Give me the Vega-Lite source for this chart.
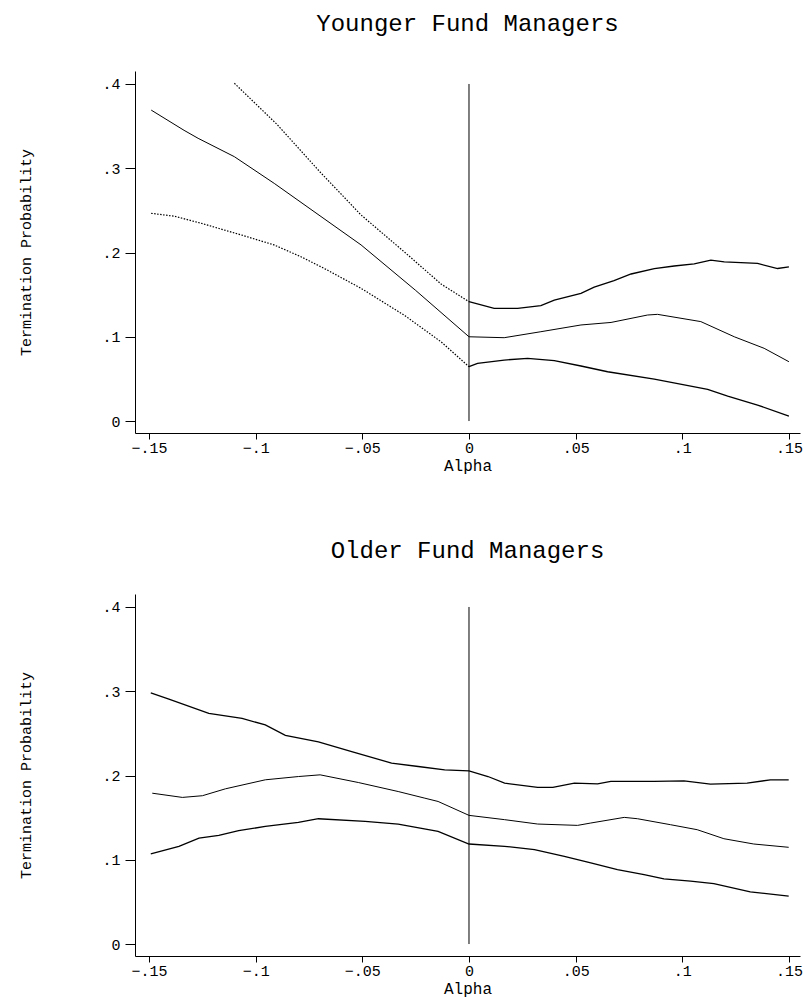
{
  "$schema": "https://vega.github.io/schema/vega-lite/v6.json",
  "background": "white",
  "padding": {"left": 18, "top": 12, "right": 0, "bottom": 3},
  "spacing": 66,
  "config": {
    "view": {"stroke": null},
    "axis": {
      "grid": false,
      "domainColor": "black",
      "tickColor": "black",
      "labelColor": "black",
      "titleColor": "black",
      "labelFont": "Liberation Mono",
      "titleFont": "Liberation Mono",
      "labelFontSize": 15,
      "titleFontSize": 15,
      "titleFontWeight": "normal",
      "domainWidth": 1,
      "tickWidth": 1
    },
    "axisX": {"tickSize": 6, "labelPadding": 1, "titlePadding": 2, "titleFontSize": 16},
    "axisY": {"tickSize": 10, "labelPadding": 5},
    "title": {"font": "Liberation Mono", "fontSize": 24, "fontWeight": "normal", "color": "black", "anchor": "middle", "baseline": "alphabetic"}
  },
  "datasets": {
    "young": [
      {"series": "est", "alpha": -0.149, "p": 0.369},
      {"series": "est", "alpha": -0.1336, "p": 0.345},
      {"series": "est", "alpha": -0.127, "p": 0.3355},
      {"series": "est", "alpha": -0.11, "p": 0.3137},
      {"series": "est", "alpha": -0.0913, "p": 0.282},
      {"series": "est", "alpha": -0.0506, "p": 0.209},
      {"series": "est", "alpha": -0.025, "p": 0.155},
      {"series": "est", "alpha": 0, "p": 0.1},
      {"series": "est", "alpha": 0.0165, "p": 0.0989},
      {"series": "est", "alpha": 0.0337, "p": 0.106},
      {"series": "est", "alpha": 0.0525, "p": 0.114},
      {"series": "est", "alpha": 0.0666, "p": 0.117},
      {"series": "est", "alpha": 0.0837, "p": 0.1258},
      {"series": "est", "alpha": 0.0884, "p": 0.1266},
      {"series": "est", "alpha": 0.1087, "p": 0.118},
      {"series": "est", "alpha": 0.1244, "p": 0.1},
      {"series": "est", "alpha": 0.1384, "p": 0.0863},
      {"series": "est", "alpha": 0.15, "p": 0.0704},
      {"series": "upper", "alpha": -0.11, "p": 0.4008},
      {"series": "upper", "alpha": -0.09, "p": 0.352},
      {"series": "upper", "alpha": -0.07, "p": 0.296},
      {"series": "upper", "alpha": -0.0506, "p": 0.2445},
      {"series": "upper", "alpha": -0.03, "p": 0.2},
      {"series": "upper", "alpha": -0.0131, "p": 0.1626},
      {"series": "upper", "alpha": 0, "p": 0.1416},
      {"series": "upper", "alpha": 0.0118, "p": 0.1337},
      {"series": "upper", "alpha": 0.0228, "p": 0.1337},
      {"series": "upper", "alpha": 0.0337, "p": 0.1369},
      {"series": "upper", "alpha": 0.04, "p": 0.1436},
      {"series": "upper", "alpha": 0.0525, "p": 0.1515},
      {"series": "upper", "alpha": 0.0587, "p": 0.159},
      {"series": "upper", "alpha": 0.068, "p": 0.1666},
      {"series": "upper", "alpha": 0.076, "p": 0.1745},
      {"series": "upper", "alpha": 0.0869, "p": 0.181},
      {"series": "upper", "alpha": 0.0962, "p": 0.184},
      {"series": "upper", "alpha": 0.1056, "p": 0.1864},
      {"series": "upper", "alpha": 0.1134, "p": 0.191},
      {"series": "upper", "alpha": 0.1197, "p": 0.189},
      {"series": "upper", "alpha": 0.1353, "p": 0.187},
      {"series": "upper", "alpha": 0.1447, "p": 0.181},
      {"series": "upper", "alpha": 0.15, "p": 0.183},
      {"series": "lower", "alpha": -0.149, "p": 0.2465},
      {"series": "lower", "alpha": -0.138, "p": 0.243},
      {"series": "lower", "alpha": -0.1256, "p": 0.2347},
      {"series": "lower", "alpha": -0.107, "p": 0.221},
      {"series": "lower", "alpha": -0.0914, "p": 0.209},
      {"series": "lower", "alpha": -0.0788, "p": 0.195},
      {"series": "lower", "alpha": -0.0678, "p": 0.181},
      {"series": "lower", "alpha": -0.0506, "p": 0.1575},
      {"series": "lower", "alpha": -0.03, "p": 0.125},
      {"series": "lower", "alpha": -0.0131, "p": 0.094},
      {"series": "lower", "alpha": 0, "p": 0.0645},
      {"series": "lower", "alpha": 0.004, "p": 0.0685},
      {"series": "lower", "alpha": 0.0165, "p": 0.0724},
      {"series": "lower", "alpha": 0.0275, "p": 0.0744},
      {"series": "lower", "alpha": 0.04, "p": 0.0716},
      {"series": "lower", "alpha": 0.0525, "p": 0.0653},
      {"series": "lower", "alpha": 0.065, "p": 0.0585},
      {"series": "lower", "alpha": 0.0869, "p": 0.0498},
      {"series": "lower", "alpha": 0.1119, "p": 0.0376},
      {"series": "lower", "alpha": 0.1213, "p": 0.0297},
      {"series": "lower", "alpha": 0.1353, "p": 0.019},
      {"series": "lower", "alpha": 0.15, "p": 0.0059}
    ],
    "old": [
      {"series": "upper", "alpha": -0.1492, "p": 0.298},
      {"series": "upper", "alpha": -0.1407, "p": 0.2907},
      {"series": "upper", "alpha": -0.122, "p": 0.2737},
      {"series": "upper", "alpha": -0.1064, "p": 0.2678},
      {"series": "upper", "alpha": -0.0955, "p": 0.26},
      {"series": "upper", "alpha": -0.0861, "p": 0.2477},
      {"series": "upper", "alpha": -0.0706, "p": 0.24},
      {"series": "upper", "alpha": -0.055, "p": 0.2284},
      {"series": "upper", "alpha": -0.0363, "p": 0.2146},
      {"series": "upper", "alpha": -0.0238, "p": 0.2107},
      {"series": "upper", "alpha": -0.0114, "p": 0.2067},
      {"series": "upper", "alpha": 0, "p": 0.2056},
      {"series": "upper", "alpha": 0.0089, "p": 0.1988},
      {"series": "upper", "alpha": 0.0167, "p": 0.1909},
      {"series": "upper", "alpha": 0.0322, "p": 0.1858},
      {"series": "upper", "alpha": 0.0393, "p": 0.1858},
      {"series": "upper", "alpha": 0.0494, "p": 0.1909},
      {"series": "upper", "alpha": 0.0603, "p": 0.19},
      {"series": "upper", "alpha": 0.0665, "p": 0.193},
      {"series": "upper", "alpha": 0.0868, "p": 0.193},
      {"series": "upper", "alpha": 0.1008, "p": 0.1937},
      {"series": "upper", "alpha": 0.1132, "p": 0.1897},
      {"series": "upper", "alpha": 0.1304, "p": 0.1909},
      {"series": "upper", "alpha": 0.1413, "p": 0.1949},
      {"series": "upper", "alpha": 0.1499, "p": 0.1949},
      {"series": "est", "alpha": -0.1485, "p": 0.179},
      {"series": "est", "alpha": -0.1344, "p": 0.174},
      {"series": "est", "alpha": -0.125, "p": 0.176},
      {"series": "est", "alpha": -0.1142, "p": 0.1842},
      {"series": "est", "alpha": -0.0955, "p": 0.1949},
      {"series": "est", "alpha": -0.0799, "p": 0.1988},
      {"series": "est", "alpha": -0.0698, "p": 0.2008},
      {"series": "est", "alpha": -0.0519, "p": 0.1917},
      {"series": "est", "alpha": -0.0332, "p": 0.181},
      {"series": "est", "alpha": -0.0207, "p": 0.1731},
      {"series": "est", "alpha": -0.0145, "p": 0.1692},
      {"series": "est", "alpha": 0, "p": 0.1527},
      {"series": "est", "alpha": 0.0167, "p": 0.1476},
      {"series": "est", "alpha": 0.0322, "p": 0.1424},
      {"series": "est", "alpha": 0.0509, "p": 0.1408},
      {"series": "est", "alpha": 0.0571, "p": 0.1436},
      {"series": "est", "alpha": 0.0728, "p": 0.1503},
      {"series": "est", "alpha": 0.079, "p": 0.1487},
      {"series": "est", "alpha": 0.0945, "p": 0.1416},
      {"series": "est", "alpha": 0.107, "p": 0.1357},
      {"series": "est", "alpha": 0.1195, "p": 0.125},
      {"series": "est", "alpha": 0.1335, "p": 0.1187},
      {"series": "est", "alpha": 0.1499, "p": 0.1148},
      {"series": "lower", "alpha": -0.1492, "p": 0.1069},
      {"series": "lower", "alpha": -0.136, "p": 0.116},
      {"series": "lower", "alpha": -0.1266, "p": 0.1258},
      {"series": "lower", "alpha": -0.1173, "p": 0.129},
      {"series": "lower", "alpha": -0.108, "p": 0.1345},
      {"series": "lower", "alpha": -0.0955, "p": 0.1396},
      {"series": "lower", "alpha": -0.08, "p": 0.1444},
      {"series": "lower", "alpha": -0.0706, "p": 0.1487},
      {"series": "lower", "alpha": -0.0487, "p": 0.1455},
      {"series": "lower", "alpha": -0.0332, "p": 0.1424},
      {"series": "lower", "alpha": -0.0145, "p": 0.1337},
      {"series": "lower", "alpha": 0, "p": 0.1187},
      {"series": "lower", "alpha": 0.0167, "p": 0.116},
      {"series": "lower", "alpha": 0.0307, "p": 0.112},
      {"series": "lower", "alpha": 0.0447, "p": 0.1041},
      {"series": "lower", "alpha": 0.0571, "p": 0.0962},
      {"series": "lower", "alpha": 0.0696, "p": 0.0884},
      {"series": "lower", "alpha": 0.0821, "p": 0.0824},
      {"series": "lower", "alpha": 0.0914, "p": 0.0773},
      {"series": "lower", "alpha": 0.1039, "p": 0.0746},
      {"series": "lower", "alpha": 0.1148, "p": 0.0718},
      {"series": "lower", "alpha": 0.1319, "p": 0.0619},
      {"series": "lower", "alpha": 0.1499, "p": 0.0568}
    ],
    "zero": [{"alpha": 0, "p": 0, "p2": 0.4}]
  },
  "vconcat": [
    {
      "width": 665,
      "height": 362,
      "title": {"text": "Younger Fund Managers", "offset": 35},
      "encoding": {
        "x": {"field": "alpha", "type": "quantitative", "scale": {"domain": [-0.1566, 0.1552], "nice": false, "zero": false}, "axis": {"values": [-0.15, -0.1, -0.05, 0, 0.05, 0.1, 0.15], "labelExpr": "replace(format(datum.value, '.2~f'), '0.', '.')", "title": "Alpha"}},
        "y": {"field": "p", "type": "quantitative", "scale": {"domain": [-0.0142, 0.4154], "nice": false, "zero": false}, "axis": {"values": [0, 0.1, 0.2, 0.3, 0.4], "labelExpr": "replace(format(datum.value, '.1~f'), '0.', '.')", "title": "Termination Probability", "titleX": -110, "titleY": 181, "titleBaseline": "middle"}}
      },
      "layer": [
        {"data": {"name": "zero"}, "mark": {"type": "rule", "color": "black", "strokeWidth": 1}, "encoding": {"y2": {"field": "p2"}}},
        {"data": {"name": "young"}, "transform": [{"filter": "datum.series == 'est'"}], "mark": {"type": "line", "color": "black", "strokeWidth": 1}},
        {"data": {"name": "young"}, "transform": [{"filter": "datum.series != 'est' && datum.alpha <= 0"}], "mark": {"type": "line", "color": "black", "strokeWidth": 1.2, "strokeDash": [1.5, 1.5]}, "encoding": {"detail": {"field": "series"}}},
        {"data": {"name": "young"}, "transform": [{"filter": "datum.series != 'est' && datum.alpha >= 0"}], "mark": {"type": "line", "color": "black", "strokeWidth": 1.3}, "encoding": {"detail": {"field": "series"}}}
      ]
    },
    {
      "width": 665,
      "height": 362,
      "title": {"text": "Older Fund Managers", "offset": 31},
      "encoding": {
        "x": {"field": "alpha", "type": "quantitative", "scale": {"domain": [-0.1566, 0.1552], "nice": false, "zero": false}, "axis": {"values": [-0.15, -0.1, -0.05, 0, 0.05, 0.1, 0.15], "labelExpr": "replace(format(datum.value, '.2~f'), '0.', '.')", "title": "Alpha"}},
        "y": {"field": "p", "type": "quantitative", "scale": {"domain": [-0.0142, 0.4154], "nice": false, "zero": false}, "axis": {"values": [0, 0.1, 0.2, 0.3, 0.4], "labelExpr": "replace(format(datum.value, '.1~f'), '0.', '.')", "title": "Termination Probability", "titleX": -110, "titleY": 181, "titleBaseline": "middle"}}
      },
      "layer": [
        {"data": {"name": "zero"}, "mark": {"type": "rule", "color": "black", "strokeWidth": 1}, "encoding": {"y2": {"field": "p2"}}},
        {"data": {"name": "old"}, "transform": [{"filter": "datum.series == 'est'"}], "mark": {"type": "line", "color": "black", "strokeWidth": 1}},
        {"data": {"name": "old"}, "transform": [{"filter": "datum.series != 'est'"}], "mark": {"type": "line", "color": "black", "strokeWidth": 1.3}, "encoding": {"detail": {"field": "series"}}}
      ]
    }
  ]
}
